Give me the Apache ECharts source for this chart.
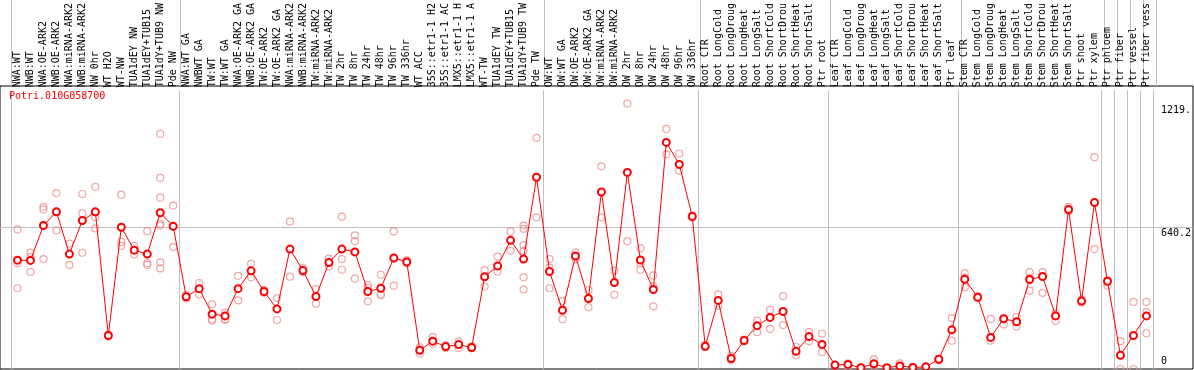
<!DOCTYPE html>
<html><head><meta charset="utf-8">
<script src="https://cdn.jsdelivr.net/npm/echarts@6/dist/echarts.min.js"></script>
<style>html,body{margin:0;padding:0;background:#fff}#c{width:1194px;height:370px}</style>
</head><body><div id="c"></div>
<script>
const titleText = 'Potri.010G058700';
const categories = [
 'NWA:WT','NWB:WT','NWA:OE-ARK2','NWB:OE-ARK2','NWA:miRNA-ARK2','NWB:miRNA-ARK2','NW 0hr','WT H2O','WT-NW','TUA1dEY NW','TUA1dEY+TUB15','TUA1dY+TUB9 NW','Pde NW',
 'NWA:WT GA','NWBWT GA','TW:WT','TW:WT GA','NWA:OE-ARK2 GA','NWB:OE-ARK2 GA','TW:OE-ARK2','TW:OE-ARK2 GA','NWA:miRNA-ARK2','NWB:miRNA-ARK2','TW:miRNA-ARK2','TW:miRNA-ARK2','TW 2hr','TW 8hr','TW 24hr','TW 48hr','TW 96hr','TW 336hr','WT ACC','35S::etr1-1 H2','35S::etr1-1 AC','LMX5::etr1-1 H','LMX5::etr1-1 A','WT-TW','TUA1dEY TW','TUA1dEY+TUB15','TUA1dY+TUB9 TW','Pde TW',
 'OW:WT','OW:WT GA','OW:OE-ARK2','OW:OE-ARK2 GA','OW:miRNA-ARK2','OW:miRNA-ARK2','OW 2hr','OW 8hr','OW 24hr','OW 48hr','OW 96hr','OW 336hr',
 'Root CTR','Root LongCold','Root LongDroug','Root LongHeat','Root LongSalt','Root ShortCold','Root ShortDrou','Root ShortHeat','Root ShortSalt','Ptr root',
 'Leaf CTR','Leaf LongCold','Leaf LongDroug','Leaf LongHeat','Leaf LongSalt','Leaf ShortCold','Leaf ShortDrou','Leaf ShortHeat','Leaf ShortSalt','Ptr leaf',
 'Stem CTR','Stem LongCold','Stem LongDroug','Stem LongHeat','Stem LongSalt','Stem ShortCold','Stem ShortDrou','Stem ShortHeat','Stem ShortSalt','Ptr shoot','Ptr xylem',
 'Ptr phloem','Ptr fiber','Ptr vessel','Ptr fiber vess'
];
const means = [
 500,499,659,722,528,682,722,154,651,546,528,718,656,
 332,369,252,244,369,451,356,276,551,452,333,489,551,538,356,371,510,492,86,128,103,112,99,424,473,591,505,881,
 448,270,519,324,813,397,903,501,365,1041,940,701,
 104,315,48,131,199,237,264,81,149,113,
 18,21,6,24,6,14,7,10,45,180,
 412,330,145,231,217,411,425,244,733,312,765,
 403,63,154,244
];
const replicates = [
 [641,486,371],[535,446,515],[745,733,505],[808,637],[576,478],[804,715,534],[837,697,646],[150,155,157],[801,584,566],[566,526],[633,486,478],[1080,878,787,667,659,490,462],[751,560],
 [340,324],[395,343],[297,229,222],[259,229,225],[428,315],[483,422],[365,350],[326,225],[677,424],[463,445],[368,300],[507,471],[700,505,456],[614,587,415],[372,311,385],[433,341,340],[632,383],[500,485],[71,100],[146,116],[109,96],[127,97],[104,95],[454,379],[516,448],[632,543],[659,644,569,543,421,365],[1062,697],
 [505,466,371],[312,229],[535,504],[362,284],[931,697],[452,341],[1219.4,587],[555,486,456],[430,380,288],[1103,986],[990,911],[705,695],
 [110,100],[343,290],[60,41],[135,128],[222,169],[272,184],[335,202],[101,63],[169,127],[162,78],
 [18,15],[26,12],[6,4],[45,12],[5,4],[26,8],[10,5],[10,8],[48,40],[234,130],
 [440,420,375],[335,325],[230,130],[230,205],[240,195],[445,420,360],[445,350],[255,220],[745,725],[320,305],[973,551],
 [407,383],[128,0],[308,0],[308,262,164]
];
const groupStarts = [0,13,41,53,63,73,84,85,86,87];
const yTickValues = [0, 640.2, 1219.4];
const yTickLabels = ['0', '640.2', '1219.'];
const yMax = 1280.4;

const FONT = 'DejaVu Sans Mono';
const splitFn = function (i) { return groupStarts.indexOf(i) >= 0; };
const repData = [];
replicates.forEach(function (arr, i) { arr.forEach(function (v) { repData.push([i, v]); }); });

const chart = echarts.init(document.getElementById('c'), null, {renderer: 'canvas'});
chart.setOption({
  animation: false,
  backgroundColor: '#fff',
  title: {text: titleText, left: 9, top: 91, padding: 0,
    textStyle: {fontFamily: FONT, fontSize: 10, fontWeight: 'normal', color: '#ff0000'}},
  grid: [
    {left: 0, right: 1, top: 86, bottom: 1, show: true, borderColor: '#000', borderWidth: 1, backgroundColor: 'transparent'},
    {left: 11, right: 38, top: 86, bottom: 1},
    {left: 11, right: 38, top: 0, height: 86}
  ],
  xAxis: [
    {gridIndex: 0, type: 'value', show: false, min: 0, max: 1},
    {gridIndex: 1, type: 'category', position: 'top', data: categories, boundaryGap: true,
      axisLine: {show: false}, axisTick: {show: false},
      axisLabel: {interval: 0, rotate: 90, margin: 3, fontFamily: FONT, fontSize: 10, color: '#000'},
      splitLine: {show: true, interval: splitFn, lineStyle: {color: '#c0c0c0', width: 1}}},
    {gridIndex: 2, type: 'category', data: categories, boundaryGap: true,
      axisLine: {show: false}, axisTick: {show: false}, axisLabel: {show: false},
      splitLine: {show: true, interval: splitFn, lineStyle: {color: '#c0c0c0', width: 1}}}
  ],
  yAxis: [
    {gridIndex: 0, type: 'value', min: 0, max: yMax, interval: yMax / 2,
      axisLine: {show: false}, axisTick: {show: false}, axisLabel: {show: false},
      splitLine: {show: true, showMinLine: false, showMaxLine: false, lineStyle: {color: '#c0c0c0', width: 1}}},
    {gridIndex: 1, type: 'value', position: 'right', min: 0, max: yMax,
      axisLine: {show: false}, axisTick: {show: false}, splitLine: {show: false},
      axisLabel: {customValues: yTickValues, margin: 8, showMinLabel: true, showMaxLabel: true,
        formatter: function (v) {
          const k = yTickValues.findIndex(function (t) { return Math.abs(t - v) < 0.01; });
          const names = ['c', 'b', 'a'];
          return k < 0 ? '' : '{' + names[k] + '|' + yTickLabels[k] + '}';
        },
        rich: {
          a: {fontFamily: FONT, fontSize: 10, color: '#000', padding: [14, 0, 0, 0]},
          b: {fontFamily: FONT, fontSize: 10, color: '#000', padding: [8, 0, 0, 0]},
          c: {fontFamily: FONT, fontSize: 10, color: '#000', padding: [0, 0, 15, 0]}
        }}},
    {gridIndex: 2, type: 'value', show: false, min: 0, max: 1}
  ],
  series: [
    {type: 'scatter', xAxisIndex: 1, yAxisIndex: 1, data: repData, symbol: 'circle', symbolSize: 7,
      itemStyle: {color: 'rgba(0,0,0,0)', borderColor: '#ef9090', borderWidth: 1.2}, z: 2, silent: true},
    {type: 'line', xAxisIndex: 1, yAxisIndex: 1, data: means, symbol: 'emptyCircle', symbolSize: 7,
      showAllSymbol: true, lineStyle: {color: '#ff0000', width: 1},
      itemStyle: {color: '#ff0000', borderWidth: 1.5}, z: 3}
  ]
});
</script>
</body></html>
